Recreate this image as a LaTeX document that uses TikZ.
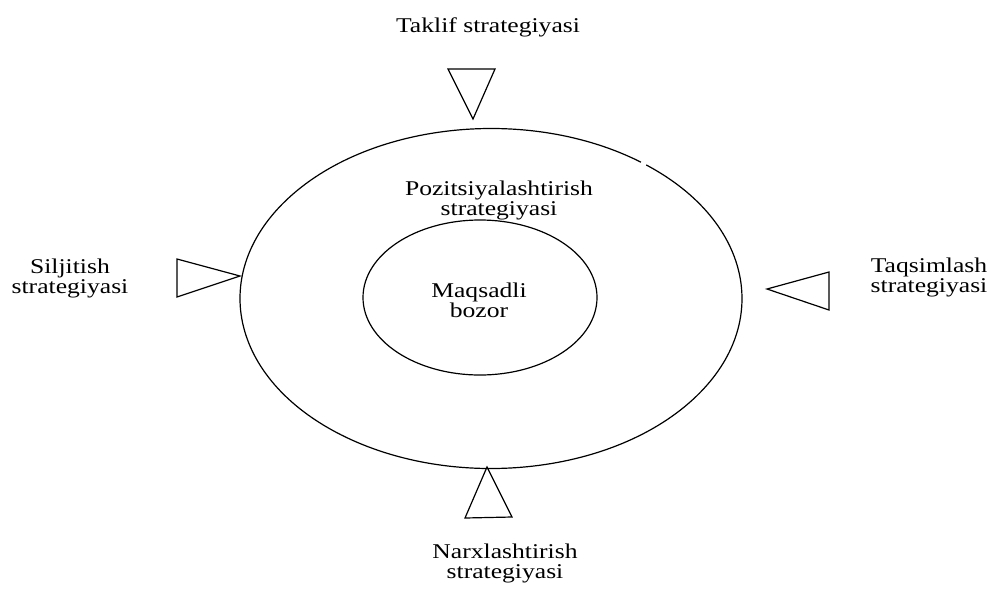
\documentclass[tikz,border=0pt]{standalone}
\usepackage{fontspec}
\setmainfont[FakeStretch=1.22]{Liberation Serif}
\begin{document}
\begin{tikzpicture}[x=1pt,y=-1pt,line width=1.2pt,
  lbl/.style={align=center,inner sep=0pt,font=\fontsize{21}{20}\selectfont},
  tri/.style={draw=black,line join=miter}]
\useasboundingbox (0,0) rectangle (990,590);
% outer ellipse (with small gap as in reference)
\draw (491,298.5) ++(53.3:251 and -170) arc[start angle=53.3,end angle=411.8,x radius=251,y radius=-170];
% inner ellipse
\draw (480,297.5) ellipse[x radius=117,y radius=77.5];
% triangles
\draw[tri] (448,69) -- (495,69) -- (473,119) -- cycle;
\draw[tri] (177,259) -- (240,276) -- (177,297) -- cycle;
\draw[tri] (829,272) -- (767,289) -- (829,310) -- cycle;
\draw[tri] (487,467) -- (512,517) -- (465,518) -- cycle;
% labels
\node[lbl] (taklif) at (488,26.9) {Taklif strategiyasi};
\node[lbl] (siljitish) at (70,278.9) {Siljitish\\strategiyasi};
\node[lbl] (taqsim) at (929,277) {Taqsimlash\\strategiyasi};
\node[lbl] (pozit) at (499,200.2) {Pozitsiyalashtirish\\strategiyasi};
\node[lbl] (maqsad) at (479,299.9) {Maqsadli\\bozor};
\node[lbl] (narx) at (505,563.2) {Narxlashtirish\\strategiyasi};
\end{tikzpicture}
\end{document}
